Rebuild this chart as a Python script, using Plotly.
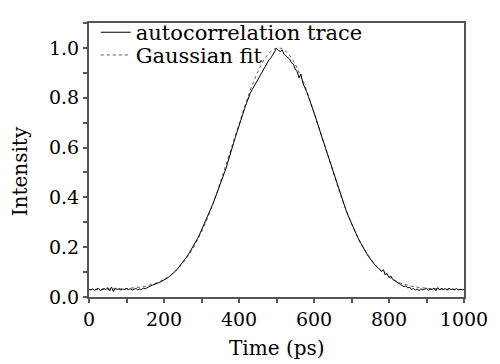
import plotly.graph_objects as go

# Autocorrelation trace, sampled every 5 ps (0..1000 ps)
trace_t = list(range(0, 1001, 5))
trace_i = [
    0.030, 0.028, 0.033, 0.027, 0.031, 0.035, 0.026, 0.030, 0.034, 0.029,
    0.038, 0.024, 0.040, 0.022, 0.036, 0.030, 0.033, 0.028, 0.032, 0.030,
    0.034, 0.029, 0.033, 0.028, 0.031, 0.034, 0.029, 0.032, 0.030, 0.035,
    0.033, 0.038, 0.042, 0.045, 0.048, 0.050, 0.054, 0.057, 0.060, 0.064,
    0.067, 0.072, 0.077, 0.083, 0.089, 0.096, 0.103, 0.111, 0.120, 0.129,
    0.138, 0.149, 0.160, 0.171, 0.183, 0.195, 0.210, 0.222, 0.236, 0.252,
    0.268, 0.284, 0.300, 0.318, 0.335, 0.355, 0.372, 0.392, 0.410, 0.430,
    0.452, 0.470, 0.492, 0.515, 0.540, 0.562, 0.590, 0.615, 0.640, 0.665,
    0.690, 0.712, 0.735, 0.757, 0.778, 0.800, 0.818, 0.832, 0.845, 0.857,
    0.872, 0.885, 0.898, 0.912, 0.928, 0.940, 0.952, 0.960, 0.972, 0.982,
    0.998, 0.990, 0.985, 0.992, 0.975, 0.968, 0.960, 0.955, 0.940, 0.935,
    0.915, 0.905, 0.880, 0.895, 0.860, 0.845, 0.825, 0.805, 0.785, 0.762,
    0.742, 0.718, 0.693, 0.670, 0.645, 0.622, 0.598, 0.575, 0.548, 0.530,
    0.503, 0.480, 0.458, 0.436, 0.413, 0.392, 0.370, 0.350, 0.330, 0.312,
    0.295, 0.278, 0.260, 0.246, 0.228, 0.215, 0.200, 0.186, 0.176, 0.163,
    0.153, 0.142, 0.135, 0.124, 0.118, 0.110, 0.102, 0.110, 0.090, 0.094,
    0.078, 0.084, 0.070, 0.066, 0.060, 0.054, 0.051, 0.046, 0.042, 0.044,
    0.036, 0.040, 0.030, 0.034, 0.028, 0.032, 0.026, 0.033, 0.029, 0.031,
    0.035, 0.027, 0.032, 0.030, 0.036, 0.025, 0.038, 0.028, 0.034, 0.030,
    0.033, 0.028, 0.035, 0.030, 0.032, 0.029, 0.034, 0.028, 0.031, 0.029,
    0.030,
]

# Gaussian fit, sampled every 10 ps
fit_t = list(range(0, 1001, 10))
fit_i = [
    0.0300, 0.0300, 0.0300, 0.0301, 0.0303, 0.0308, 0.0311, 0.0315, 0.0320, 0.0327,
    0.0336, 0.0347, 0.0361, 0.0380, 0.0403, 0.0431, 0.0467, 0.0510, 0.0563, 0.0627,
    0.0704, 0.0797, 0.0905, 0.1033, 0.1182, 0.1352, 0.1548, 0.1772, 0.2022, 0.2300,
    0.2610, 0.2947, 0.3314, 0.3709, 0.4128, 0.4570, 0.5031, 0.5506, 0.5989, 0.6475,
    0.6957, 0.7428, 0.7880, 0.8304, 0.8696, 0.9048, 0.9352, 0.9603, 0.9795, 0.9925,
    0.9992, 0.9992, 0.9925, 0.9795, 0.9603, 0.9352, 0.9048, 0.8696, 0.8304, 0.7880,
    0.7428, 0.6957, 0.6475, 0.5989, 0.5506, 0.5031, 0.4570, 0.4128, 0.3709, 0.3314,
    0.2947, 0.2610, 0.2300, 0.2022, 0.1772, 0.1548, 0.1352, 0.1182, 0.1033, 0.0905,
    0.0797, 0.0704, 0.0627, 0.0563, 0.0510, 0.0467, 0.0431, 0.0403, 0.0380, 0.0361,
    0.0347, 0.0336, 0.0327, 0.0320, 0.0315, 0.0311, 0.0308, 0.0303, 0.0301, 0.0300,
    0.0300,
]

x_ticks = [0, 200, 400, 600, 800, 1000]
y_ticks = [0.0, 0.2, 0.4, 0.6, 0.8, 1.0]
y_tick_labels = ["0.0", "0.2", "0.4", "0.6", "0.8", "1.0"]

FONT = "DejaVu Serif"
AX = "#555555"
FIT_COLOR = "#555555"

fig = go.Figure()
fig.add_trace(go.Scatter(
    x=fit_t, y=fit_i, mode="lines", name="Gaussian fit", showlegend=True,
    line=dict(color=FIT_COLOR, width=1, dash="dot"), legend="legend2",
))
fig.add_trace(go.Scatter(
    x=trace_t, y=trace_i, mode="lines", name="autocorrelation trace", showlegend=True,
    line=dict(color="black", width=1), legend="legend",
))

axis_common = dict(
    showline=True, linecolor=AX, linewidth=2, mirror=True,
    ticks="outside", ticklen=4, tickwidth=2, tickcolor=AX,
    showgrid=False, zeroline=False,
    tickfont=dict(family=FONT, size=19, color="black"),
)

legend_common = dict(
    xanchor="left", yanchor="middle",
    bgcolor="rgba(0,0,0,0)", borderwidth=0,
    font=dict(family=FONT, size=21, color="black"),
    itemwidth=30,
)

fig.update_layout(
    width=500, height=364,
    showlegend=True,
    margin=dict(l=89, r=28, t=14, b=67),
    paper_bgcolor="white", plot_bgcolor="white",
    font=dict(family=FONT, size=19, color="black"),
    xaxis=dict(
        range=[0, 1000], tickvals=x_ticks,
        minor=dict(dtick=100, ticks="outside", ticklen=4, tickwidth=2, tickcolor=AX),
        **axis_common,
    ),
    yaxis=dict(
        range=[0, 1.1], tickvals=y_ticks, ticktext=y_tick_labels,
        minor=dict(dtick=0.1, ticks="outside", ticklen=4, tickwidth=2, tickcolor=AX),
        **axis_common,
    ),
    legend=dict(x=0.018, y=0.965, visible=True, **legend_common),
    legend2=dict(x=0.018, y=0.882, visible=True, **legend_common),
    annotations=[
        dict(text="Time (ps)", xref="paper", yref="paper", x=0.5, y=-0.187,
             xanchor="center", yanchor="middle", showarrow=False,
             font=dict(family=FONT, size=20, color="black")),
        dict(text="Intensity", xref="paper", yref="paper", x=-0.183, y=0.46,
             xanchor="center", yanchor="middle", showarrow=False, textangle=-90,
             font=dict(family=FONT, size=20, color="black")),
    ],
)

fig.write_html("out.html")
